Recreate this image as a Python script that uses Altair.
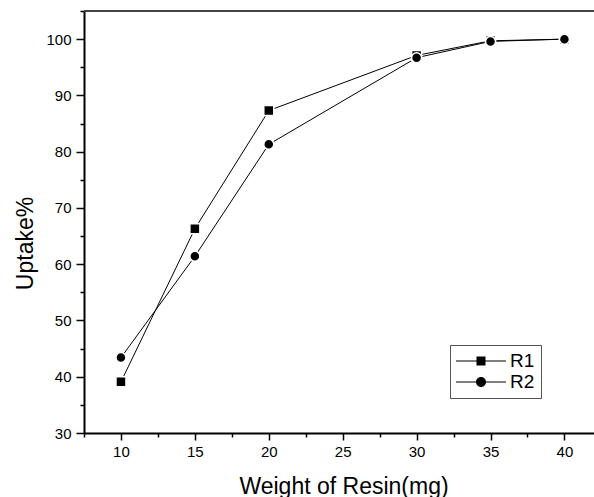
import altair as alt
import pandas as pd

weight = [10, 15, 20, 30, 35, 40]
r1 = [39.1, 66.3, 87.3, 97.1, 99.7, 100.0]
r2 = [43.4, 61.4, 81.3, 96.7, 99.6, 100.0]
series_names = ["R1", "R2"]
x_major = [10, 15, 20, 25, 30, 35, 40]
x_minor = [7.5, 12.5, 17.5, 22.5, 27.5, 32.5, 37.5]
y_major = [30, 40, 50, 60, 70, 80, 90, 100]
y_minor = [35, 45, 55, 65, 75, 85, 95, 105]

rows = []
for name, vals in zip(series_names, [r1, r2]):
    for w, v in zip(weight, vals):
        rows.append({"Weight": w, "Uptake": v, "Series": name})
df = pd.DataFrame(rows)

FONT = "Liberation Sans"
x_scale = alt.Scale(domain=[7.5, 42], nice=False, zero=False)
y_scale = alt.Scale(domain=[30, 105], nice=False, zero=False)

x_main = alt.X(
    "Weight:Q",
    scale=x_scale,
    axis=alt.Axis(
        orient="bottom",
        values=x_major,
        tickSize=7,
        title="Weight of Resin(mg)",
        titleX=259.5,
        titleY=60,
        titleBaseline="alphabetic",
        titleAlign="center",
        labelPadding=4,
    ),
)
y_main = alt.Y(
    "Uptake:Q",
    scale=y_scale,
    axis=alt.Axis(
        orient="left",
        values=y_major,
        tickSize=8,
        title="Uptake%",
        titleX=-52,
        titleY=232,
        titleAngle=-90,
        titleBaseline="alphabetic",
        titleAlign="center",
        labelPadding=5,
    ),
)
x_min = alt.X(
    "Weight:Q",
    scale=x_scale,
    axis=alt.Axis(orient="bottom", values=x_minor, tickSize=4, labels=False, domain=False, title=None),
)
y_min = alt.Y(
    "Uptake:Q",
    scale=y_scale,
    axis=alt.Axis(orient="left", values=y_minor, tickSize=4, labels=False, domain=False, title=None),
)
x_plain = alt.X("Weight:Q", scale=x_scale, axis=None)
y_plain = alt.Y("Uptake:Q", scale=y_scale, axis=None)

base = alt.Chart(df)

lines = base.mark_line(color="black", strokeWidth=1).encode(
    x=x_main, y=y_main, detail="Series:N"
)

minor_layer = base.mark_point(opacity=0).encode(x=x_min, y=y_min)

points = base.mark_point(
    filled=True, fill="black", stroke="white", strokeWidth=1.5, size=100, opacity=1
).encode(
    x=x_plain,
    y=y_plain,
    shape=alt.Shape(
        "Series:N",
        scale=alt.Scale(domain=series_names, range=["square", "circle"]),
        legend=None,
    ),
)

sq_path = "M-2.5,-0.05H2.5V0.05H-2.5Z M-0.45,-0.45H0.45V0.45H-0.45Z"
ci_path = "M-2.5,-0.05H2.5V0.05H-2.5Z M0.5,0A0.5,0.5,0,1,1,-0.5,0A0.5,0.5,0,1,1,0.5,0Z"

legend_layer = base.mark_point(
    filled=True, fill="black", opacity=0
).encode(
    x=x_plain,
    y=y_plain,
    shape=alt.Shape(
        "Series:N",
        scale=alt.Scale(domain=series_names, range=[sq_path, ci_path]),
        legend=alt.Legend(
            title=None,
            orient="none",
            legendX=366,
            legendY=334,
            symbolSize=400,
            symbolOpacity=1,
            symbolFillColor="black",
            symbolStrokeWidth=0,
            symbolOffset=15,
            labelOffset=19,
            labelFontSize=19,
            labelFont=FONT,
            labelColor="black",
            strokeColor="#555555",
            padding=6,
            rowPadding=1,
        ),
    ),
)

top_rule = alt.Chart(df).mark_rule(color="#444444", strokeWidth=1).encode(
    x=alt.value(0), x2=alt.value(510), y=alt.value(0)
)

chart = (
    alt.layer(lines, minor_layer, points, legend_layer, top_rule)
    .resolve_scale(shape="independent")
    .resolve_axis(x="independent", y="independent")
    .resolve_legend(shape="independent")
    .properties(
        width=510,
        height=422,
        autosize=alt.AutoSizeParams(type="none"),
        padding={"left": 84, "top": 11, "right": 0, "bottom": 64},
        background="white",
    )
    .configure_view(stroke=None)
    .configure_axis(
        grid=False,
        domainColor="black",
        domainWidth=2,
        tickColor="black",
        tickWidth=1.5,
        labelFont=FONT,
        labelFontSize=15,
        labelColor="black",
        titleFont=FONT,
        titleFontSize=23,
        titleFontWeight="normal",
        titleColor="black",
    )
)

chart.save("out.html", embed_options={"renderer": "svg", "actions": False})
